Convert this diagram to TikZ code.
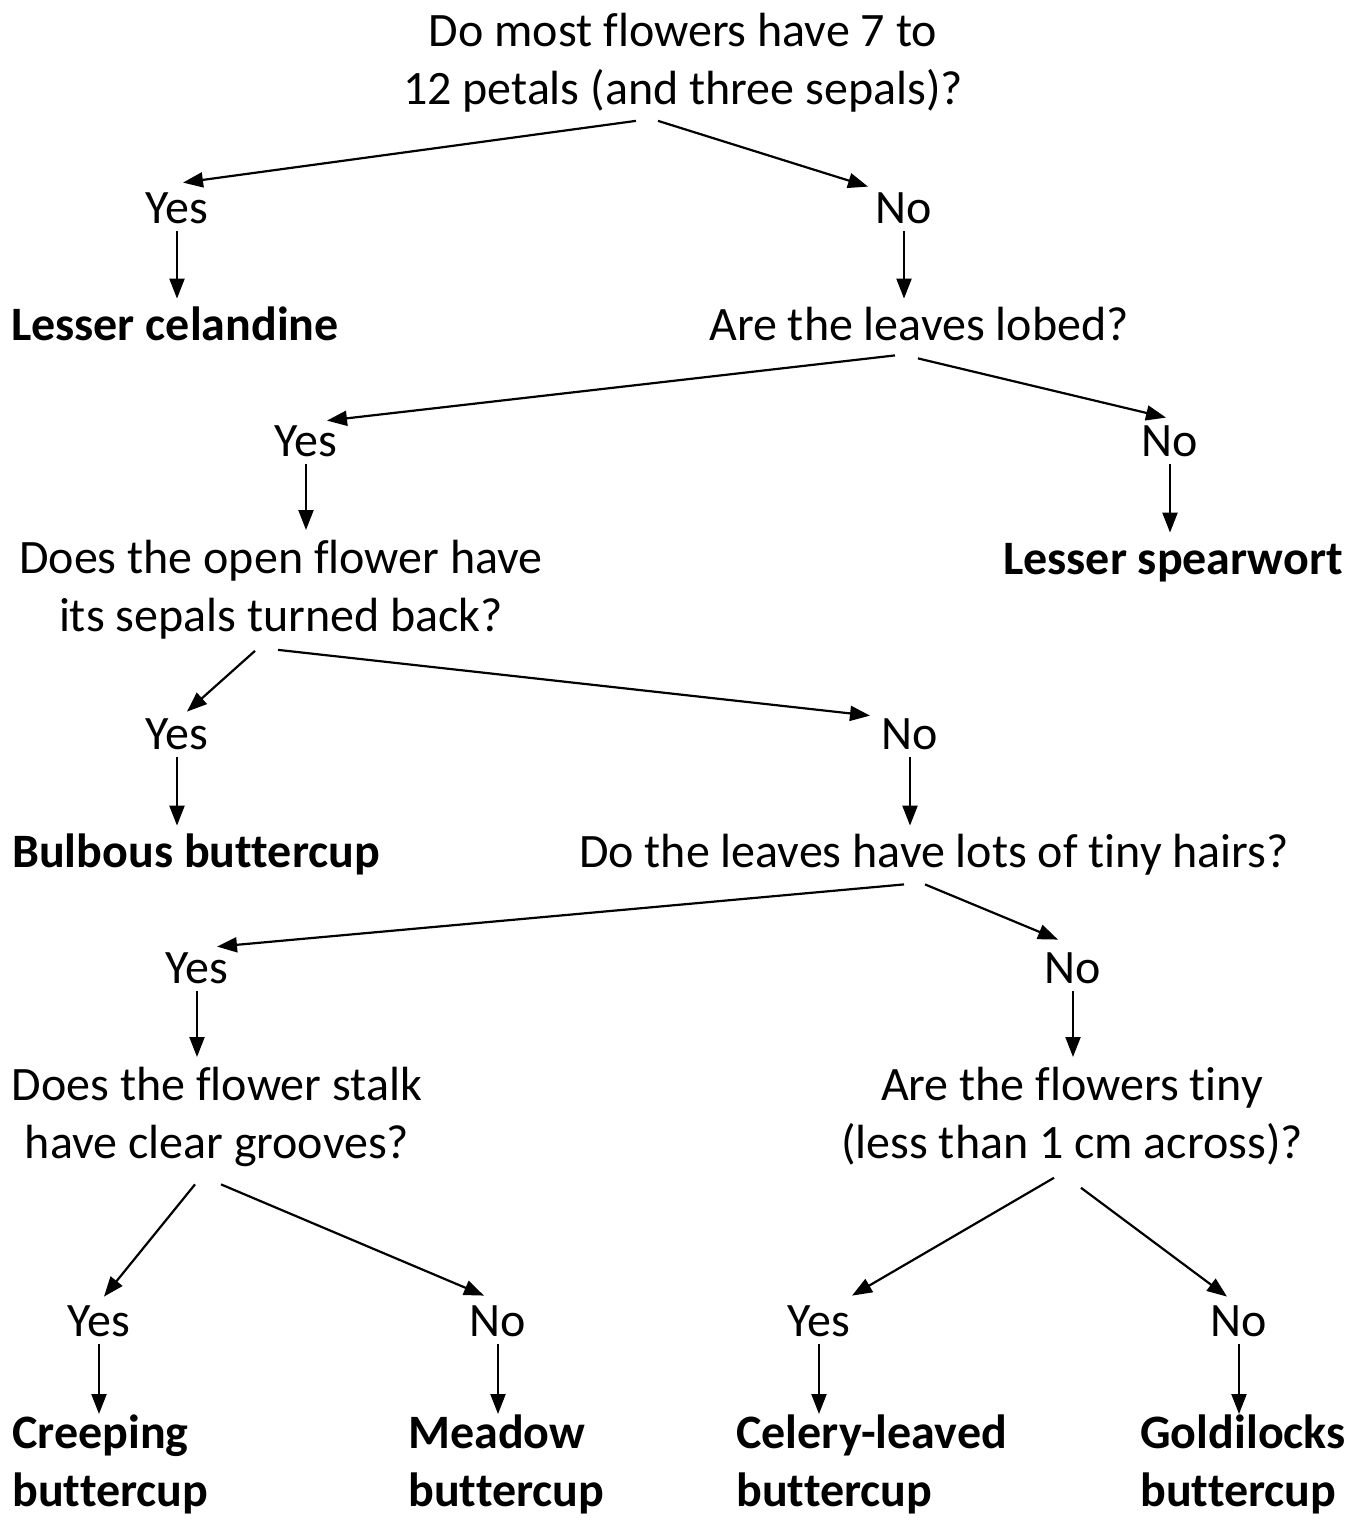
\documentclass[tikz,border=0pt]{standalone}
\usepackage{fontspec}
\setmainfont{Carlito}[Ligatures=NoCommon]
\usetikzlibrary{arrows.meta}

\tikzset{
    txt/.style={inner sep=0pt, font=\fontsize{24}{29}\selectfont},
    question/.style={txt, align=center},
    oneline/.style={anchor=base, text height=15.5pt, text depth=4.5pt},
    answer/.style={txt, anchor=base, text height=15.5pt, text depth=0pt},
    leaf/.style={txt, font=\fontsize{24}{29}\selectfont\bfseries, align=left},
    arr/.style={-{Triangle[length=10pt,width=7.5pt]}, line width=1.1pt, shorten <=4pt, shorten >=5pt},
    qarr/.style={arr, shorten <=0pt, shorten >=0pt}
}

\begin{document}
\begin{tikzpicture}[x=0.5pt,y=-0.5pt]
                \useasboundingbox (0,0) rectangle (1360,1520);
                \node[question, anchor=north] (q1) at (683,13) {Do most flowers have 7 to\\12 petals (and three sepals)?};
                \node[answer] (yes1) at (177,223) {Yes};
                \node[answer] (no1) at (904,223) {No};
                \node[leaf, oneline] (celandine) at (175,340) {Lesser celandine};
                \node[question, oneline] (q2) at (919,340) {Are the leaves lobed?};
                \node[answer] (yes2) at (306,456) {Yes};
                \node[answer] (no2) at (1170,456) {No};
                \node[question, anchor=north] (q3) at (281,540) {Does the open flower have\\its sepals turned back?};
                \node[leaf, oneline] (spearwort) at (1173,574) {Lesser spearwort};
                \node[answer] (yes3) at (177,749) {Yes};
                \node[answer] (no3) at (910,749) {No};
                \node[leaf, oneline] (bulbous) at (196,867) {Bulbous buttercup};
                \node[question, oneline] (q4) at (934,867) {Do the leaves have lots of tiny hairs?};
                \node[answer] (yes4) at (197,983) {Yes};
                \node[answer] (no4) at (1073,983) {No};
                \node[question, anchor=north] (q5) at (217,1067) {Does the flower stalk\\have clear grooves?};
                \node[question, anchor=north] (q6) at (1072,1067) {Are the flowers tiny\\(less than 1 cm across)?};
                \node[answer] (yes5) at (99,1336) {Yes};
                \node[answer] (no5) at (498,1336) {No};
                \node[answer] (yes6) at (819,1336) {Yes};
                \node[answer] (no6) at (1239,1336) {No};
                \node[leaf, anchor=north west] (creeping) at (12,1414) {Creeping\\buttercup};
                \node[leaf, anchor=north west] (meadow) at (408,1414) {Meadow\\buttercup};
                \node[leaf, anchor=north west] (celery) at (736,1414) {Celery-leaved\\buttercup};
                \node[leaf, anchor=north west] (goldilocks) at (1140,1414) {Goldilocks\\buttercup};

                \draw[qarr] ([shift={(-23.5pt,-4pt)}]q1.south) -- ([shift={(3pt,4.5pt)}]yes1.north);
                \draw[qarr] ([shift={(-12.5pt,-4pt)}]q1.south) -- ([shift={(-18pt,2.5pt)}]no1.north);
                \draw[arr] (yes1.south) -- (yes1.south |- celandine.north);
                \draw[arr] (no1.south) -- (no1.south |- q2.north);
                \draw[qarr] ([shift={(-12pt,-3pt)}]q2.south) -- ([shift={(10.5pt,2pt)}]yes2.north);
                \draw[qarr] ([shift={(-0.5pt,-4.5pt)}]q2.south) -- ([shift={(-2pt,3.5pt)}]no2.north);
                \draw[arr] (yes2.south) -- (yes2.south |- q3.north);
                \draw[arr] (no2.south) -- (no2.south |- spearwort.north);
                \draw[qarr] ([shift={(-13pt,-5.5pt)}]q3.south) -- ([shift={(5pt,3pt)}]yes3.north);
                \draw[qarr] ([shift={(-1.5pt,-5pt)}]q3.south) -- ([shift={(-20pt,1pt)}]no3.north);
                \draw[arr] (yes3.south) -- (yes3.south |- bulbous.north);
                \draw[arr] (no3.south) -- (no3.south |- q4.north);
                \draw[qarr] ([shift={(-15pt,-4pt)}]q4.south) -- ([shift={(10pt,2.5pt)}]yes4.north);
                \draw[qarr] ([shift={(-4.5pt,-4pt)}]q4.south) -- ([shift={(-7.5pt,6pt)}]no4.north);
                \draw[arr] (yes4.south) -- (yes4.south |- q5.north);
                \draw[arr] (no4.south) -- (no4.south |- q6.north);
                \draw[qarr] ([shift={(-11pt,-8.5pt)}]q5.south) -- ([shift={(2.5pt,4pt)}]yes5.north);
                \draw[qarr] ([shift={(2pt,-8.5pt)}]q5.south) -- ([shift={(-7pt,4.5pt)}]no5.north);
                \draw[qarr] ([shift={(-9pt,-6pt)}]q6.south) -- ([shift={(16.5pt,4.5pt)}]yes6.north);
                \draw[qarr] ([shift={(4.5pt,-11pt)}]q6.south) -- ([shift={(-6pt,4pt)}]no6.north);
                \draw[arr, shorten >=0pt] (yes5.south) -- (yes5.south |- creeping.north);
                \draw[arr, shorten >=0pt] (no5.south) -- (no5.south |- meadow.north);
                \draw[arr, shorten >=0pt] (yes6.south) -- (yes6.south |- celery.north);
                \draw[arr, shorten >=0pt] (no6.south) -- (no6.south |- goldilocks.north);
            \end{tikzpicture}
\end{document}
